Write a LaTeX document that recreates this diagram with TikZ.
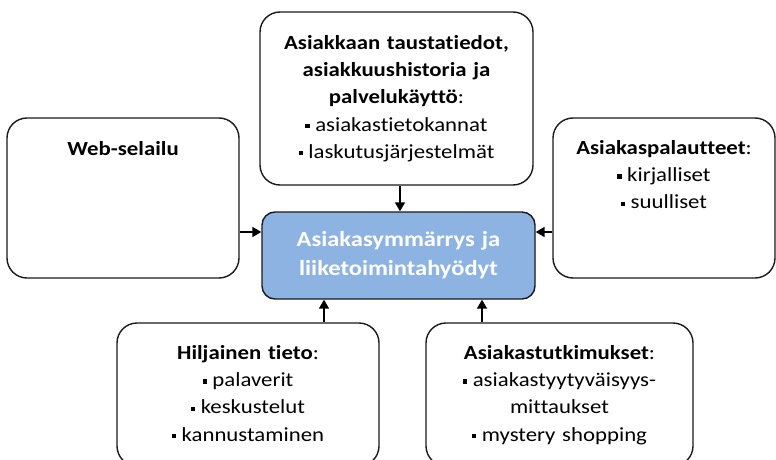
\documentclass[tikz,border=0pt]{standalone}
\usepackage{fontspec}
\setmainfont[FakeStretch=1.14,Ligatures=NoCommon]{Carlito}
\usetikzlibrary{arrows.meta,calc}
\definecolor{boxblue}{HTML}{8DB3E2}
\definecolor{edge}{HTML}{1A1A1A}
% small square bullet
\newcommand{\sqb}{\raisebox{3pt}{\rule{4.3pt}{4.3pt}}\hspace{5.5pt}}
\begin{document}
\begin{tikzpicture}[x=1pt,y=-1pt,
  card/.style={draw=edge,line width=1.4pt,rounded corners=20pt,fill=white,inner sep=0pt},
  hub/.style={draw=edge,line width=1.4pt,rounded corners=13pt,fill=boxblue,inner sep=0pt},
  txt/.style={inner sep=0pt,text width=270pt,align=center,anchor=base,
    font=\fontsize{20}{27.3}\selectfont},
  hubtxt/.style={inner sep=0pt,text width=270pt,align=center,anchor=base,text=white,
    font=\fontsize{21.5}{29}\selectfont\bfseries},
  feed/.style={draw=black,line width=1.8pt,-{Triangle[length=9pt,width=10pt]}}]
\useasboundingbox (0,0) rectangle (776,460);
\begin{scope}
\clip (0,0) rectangle (776,460);
% boxes
\node[card,minimum width=232pt,minimum height=160pt] (web) at (123,198) {};
\node[card,minimum width=273pt,minimum height=173pt] (top) at (396.5,98.5) {};
\node[card,minimum width=222pt,minimum height=160pt] (fb) at (664,198) {};
\node[card,minimum width=262pt,minimum height=143pt] (tacit) at (248,394.5) {};
\node[card,minimum width=267pt,minimum height=143pt] (survey) at (559.5,394.5) {};
\node[hub,minimum width=273pt,minimum height=87pt] (hub) at (398.5,255.5) {};
% texts
\node[txt] (webt) at ([yshift=-37.7pt]web.north) {\textbf{Web-selailu}};
\node[txt] (topt) at ([yshift=-38pt]top.north) {\textbf{Asiakkaan taustatiedot,}\\\textbf{asiakkuushistoria ja}\\\textbf{palvelukäyttö}:\\\sqb asiakastietokannat\\\sqb laskutusjärjestelmät};
\node[txt] (fbt) at ([yshift=-37pt]fb.north) {\textbf{Asiakaspalautteet}:\\\sqb kirjalliset\\\sqb suulliset};
\node[txt] (tacitt) at ([yshift=-37pt]tacit.north) {\textbf{Hiljainen tieto}:\\\sqb palaverit\\\sqb keskustelut\\\sqb kannustaminen};
\node[txt] (surveyt) at ([yshift=-37pt]survey.north) {\textbf{Asiakastutkimukset}:\\\sqb asiakastyytyväisyys-\\mittaukset\\\sqb mystery shopping};
\node[hubtxt] (hubt) at ([yshift=-35pt]hub.north) {Asiakasymmärrys ja\\liiketoimintahyödyt};
% connectors
\coordinate (lvl) at (0,232);
\draw[feed] (web.east |- lvl) -- (hub.west |- lvl);
\draw[feed] (fb.west |- lvl) -- (hub.east |- lvl);
\coordinate (xt) at (400,0);
\draw[feed] (top.south -| xt) -- (hub.north -| xt);
\coordinate (xl) at (324,0);
\draw[feed] (tacit.north -| xl) -- (hub.south -| xl);
\coordinate (xr) at (482,0);
\draw[feed] (survey.north -| xr) -- (hub.south -| xr);
\end{scope}
\end{tikzpicture}
\end{document}
